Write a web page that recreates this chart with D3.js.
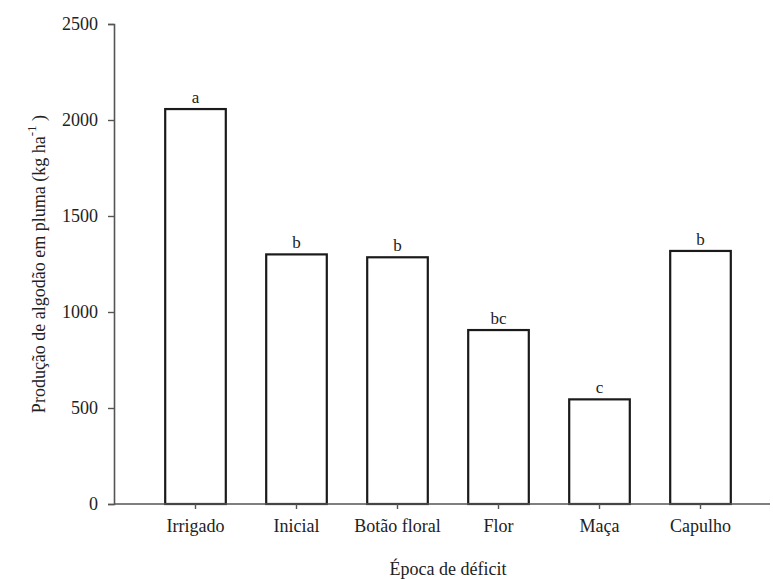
<!DOCTYPE html>
<html>
<head>
<meta charset="utf-8">
<script src="https://cdn.jsdelivr.net/npm/d3@7"></script>
<style>
  body { margin: 0; background: #fff; }
  text { font-family: "Liberation Serif", "Times New Roman", serif; fill: #222; }
</style>
</head>
<body>
<div id="myChart"></div>
<script>
// Data
let categories = ["Irrigado", "Inicial", "Botão floral", "Flor", "Maça", "Capulho"];
let yields = [2057, 1300, 1285, 906, 545, 1318];
let letters = ["a", "b", "b", "bc", "c", "b"];
let yTicks = [0, 500, 1000, 1500, 2000, 2500];

let W = 773, H = 579;
let axisLeft = 114, axisRight = 770, plotTop = 24, plotBottom = 504;

let svg = d3.select("#myChart")
  .append("svg")
  .attr("width", W)
  .attr("height", H);

// Scales
let x = d3.scaleBand()
  .domain(categories)
  .range([145, 751])
  .paddingInner(0.4)
  .paddingOuter(0.2);

let y = d3.scaleLinear().domain([0, 2500]).range([plotBottom, plotTop]);

// Bars
svg.selectAll(".bar")
  .data(categories)
  .enter()
  .append("rect")
  .attr("class", "bar")
  .attr("x", d => x(d))
  .attr("y", (d, i) => y(yields[i]))
  .attr("width", x.bandwidth())
  .attr("height", (d, i) => y(0) - y(yields[i]))
  .attr("fill", "#fff")
  .attr("stroke", "#1a1a1a")
  .attr("stroke-width", 2.2);

// Significance letters
svg.selectAll(".letter")
  .data(categories)
  .enter()
  .append("text")
  .attr("class", "letter")
  .attr("x", d => x(d) + x.bandwidth() / 2)
  .attr("y", (d, i) => y(yields[i]) - 6)
  .attr("text-anchor", "middle")
  .style("font-size", "17px")
  .text((d, i) => letters[i]);

// Y axis
let yAxis = svg.append("g")
  .attr("transform", `translate(${axisLeft},0)`)
  .call(d3.axisLeft(y).tickValues(yTicks).tickSize(6).tickPadding(10).tickFormat(d3.format("d")));
yAxis.select(".domain").attr("stroke", "#555").attr("stroke-width", 1.6);
yAxis.selectAll(".tick line").attr("stroke", "#555").attr("stroke-width", 1.4);
yAxis.selectAll(".tick text")
  .style("font-size", "18px")
  .style("font-family", "'Liberation Serif', serif")
  .attr("fill", "#222");

// X axis (spans the full width)
let xAxis = svg.append("g")
  .attr("transform", `translate(0,${plotBottom})`)
  .call(d3.axisBottom(x).tickSize(5).tickPadding(10).tickSizeOuter(0));
xAxis.select(".domain").attr("d", `M${axisLeft},0H${axisRight}`)
  .attr("stroke", "#555").attr("stroke-width", 1.6);
xAxis.selectAll(".tick line").attr("stroke", "#555").attr("stroke-width", 1.4);
xAxis.selectAll(".tick text")
  .style("font-size", "18px")
  .style("font-family", "'Liberation Serif', serif")
  .attr("fill", "#222");

// X axis title
svg.append("text")
  .attr("x", 448)
  .attr("y", 575)
  .attr("text-anchor", "middle")
  .style("font-size", "18px")
  .text("Época de déficit");

// Y axis title with superscript
let yt = svg.append("text")
  .attr("transform", `translate(45,${(plotTop + plotBottom) / 2}) rotate(-90)`)
  .attr("text-anchor", "middle")
  .style("font-size", "18px");
yt.append("tspan").text("Produção de algodão em pluma (kg ha");
yt.append("tspan").attr("dy", -9).style("font-size", "13px").text("-1");
yt.append("tspan").attr("dy", 9).text(" )");
</script>
</body>
</html>
